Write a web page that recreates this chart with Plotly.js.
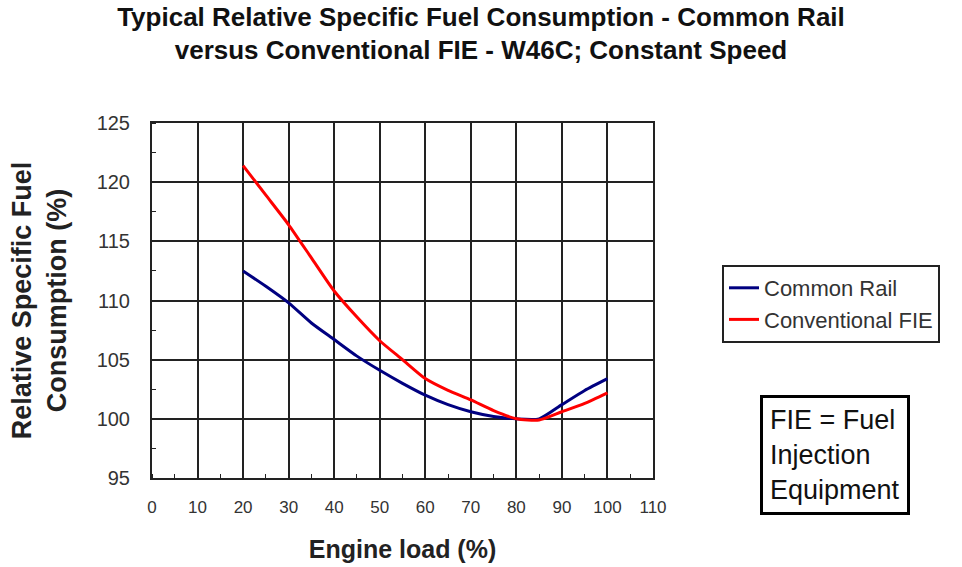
<!DOCTYPE html>
<html>
<head>
<meta charset="utf-8">
<script src="https://cdn.plot.ly/plotly-3.0.1.min.js"></script>
<style>html,body{margin:0;padding:0;background:#fff;}#chart{width:962px;height:567px;}</style>
</head>
<body>
<div id="chart"></div>
<script>
const engineLoad = [20, 25, 30, 35, 40, 45, 50, 55, 60, 65, 70, 75, 80, 85, 90, 95, 100];
const commonRail = [112.5, 111.2, 109.8, 108.1, 106.7, 105.3, 104.1, 103.0, 102.0, 101.2, 100.6, 100.2, 100.0, 100.0, 101.2, 102.4, 103.4];
const conventionalFIE = [121.4, 118.9, 116.4, 113.6, 110.8, 108.6, 106.6, 105.0, 103.4, 102.4, 101.6, 100.7, 100.0, 99.9, 100.6, 101.3, 102.2];
const seriesNames = ["Common Rail", "Conventional FIE"];
const xTicks = [0, 10, 20, 30, 40, 50, 60, 70, 80, 90, 100, 110];
const yTicks = [95, 100, 105, 110, 115, 120, 125];

const traces = [
  {x: engineLoad, y: commonRail, name: seriesNames[0], mode: 'lines', line: {color: '#000080', width: 3, shape: 'spline', smoothing: 0.6}},
  {x: engineLoad, y: conventionalFIE, name: seriesNames[1], mode: 'lines', line: {color: '#ff0000', width: 3, shape: 'spline', smoothing: 0.6}}
];

const fam = 'Arial, Liberation Sans, sans-serif';
const layout = {
  width: 962, height: 567,
  paper_bgcolor: '#fff', plot_bgcolor: '#fff',
  margin: {l: 152, r: 309, t: 123, b: 89},
  title: {
    text: '<b>Typical Relative Specific Fuel Consumption - Common Rail<br>versus Conventional FIE - W46C; Constant Speed</b>',
    font: {family: fam, size: 26, color: '#111'},
    xref: 'container', x: 0.5, xanchor: 'center',
    yref: 'container', y: 0.955, yanchor: 'top'
  },
  xaxis: {
    range: [0, 110], tickvals: xTicks, ticktext: xTicks.map(String),
    showgrid: true, gridcolor: '#222', gridwidth: 2,
    showline: true, linecolor: '#222', linewidth: 2, mirror: true,
    ticks: '', tickfont: {family: fam, size: 17, color: '#333'}, zeroline: false,
    ticklabelstandoff: 13,
    minor: {dtick: 5, ticks: 'inside', ticklen: 4, tickcolor: '#222', showgrid: false},
    title: {text: '<b>Engine load (%)</b>', font: {family: fam, size: 25, color: '#222'}, standoff: 24}
  },
  yaxis: {
    range: [95, 125], tickvals: yTicks, ticktext: yTicks.map(String),
    showgrid: true, gridcolor: '#222', gridwidth: 2,
    showline: true, linecolor: '#222', linewidth: 2, mirror: true,
    ticks: '', tickfont: {family: fam, size: 20, color: '#333'}, zeroline: false,
    ticklabelstandoff: 16,
    minor: {dtick: 2.5, ticks: 'inside', ticklen: 4, tickcolor: '#222', showgrid: false},
    title: {text: '<b>Relative Specific Fuel<br>Consumption (%)</b>', font: {family: fam, size: 27, color: '#222'}, standoff: 22}
  },
  showlegend: true,
  legend: {
    xref: 'paper', yanchor: 'top',
    bordercolor: '#222', borderwidth: 2, bgcolor: '#fff',
    font: {family: fam, size: 22, color: '#333'},
    tracegroupgap: 0
  },
  annotations: [{
    xref: 'paper', yref: 'paper', xanchor: 'left', yanchor: 'bottom',
    text: 'FIE = Fuel<br>Injection<br>Equipment', align: 'left', showarrow: false,
    font: {family: fam, size: 27, color: '#111'},
    bordercolor: '#000', borderwidth: 3, borderpad: 7, bgcolor: '#fff'
  }]
};
layout.legend.x = (722 - 152) / (653 - 152);
layout.legend.y = 1 - (265 - 123) / (478 - 123);
layout.annotations[0].x = (760 - 152) / (653 - 152);
layout.annotations[0].y = 1 - (515 - 123) / (478 - 123);
Plotly.newPlot('chart', traces, layout, {displayModeBar: false});
</script>
</body>
</html>
